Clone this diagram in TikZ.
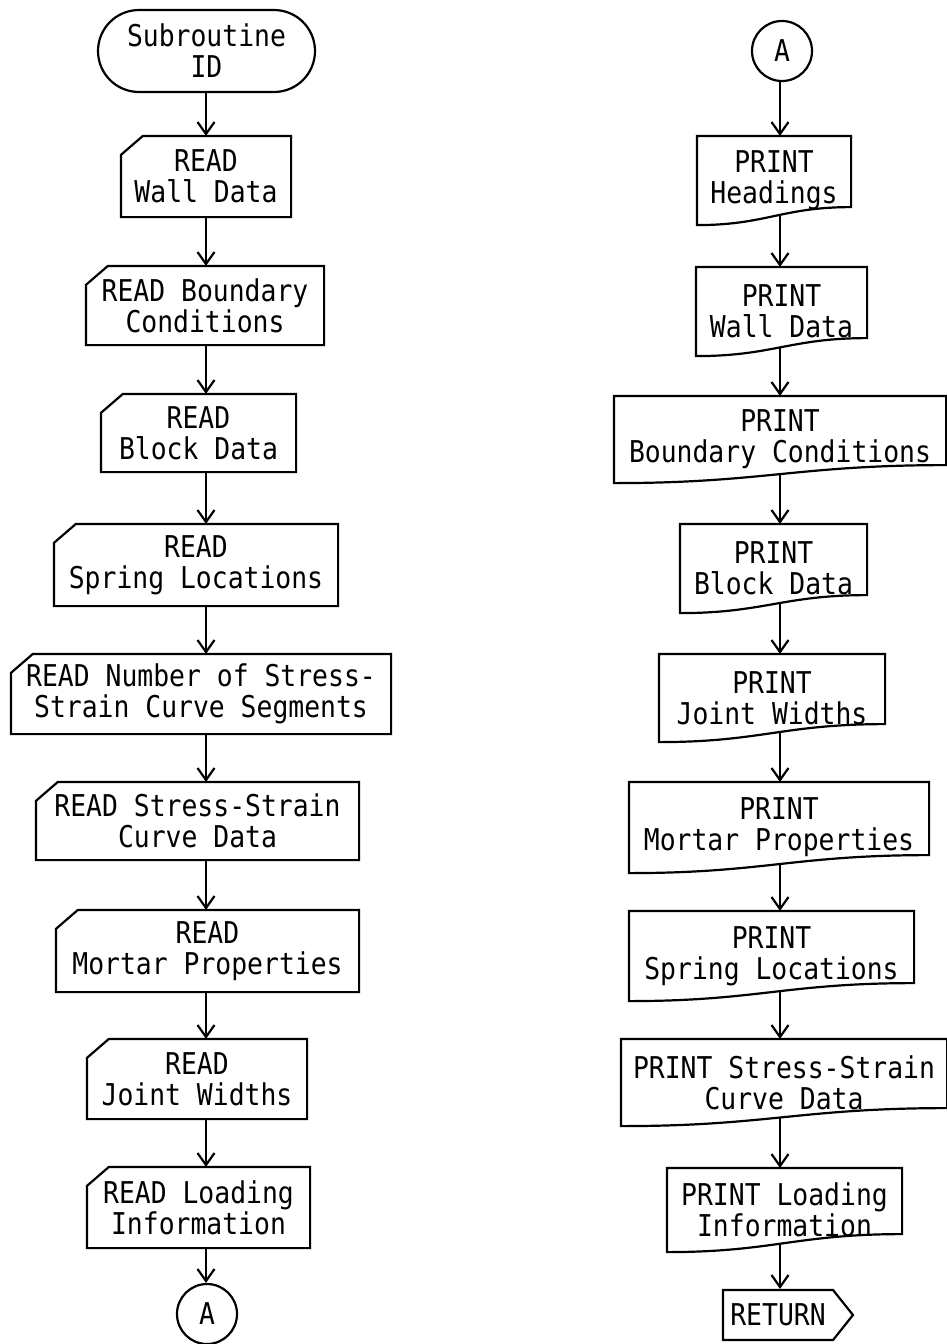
\documentclass[tikz,border=0pt]{standalone}
\usepackage{fontspec}
\usepackage{tikz}
\usetikzlibrary{shapes.misc}
\usetikzlibrary{shapes.symbols}
\usetikzlibrary{arrows.meta}
\usetikzlibrary{calc}
\newfontfamily\flowfont[FakeStretch=0.88]{DejaVu Sans Mono}

% punched card: corner cut off at top left
\newcommand{\cardframe}[1]{%
  \draw ($(#1.north west)+(22,0)$) -- (#1.north east) -- (#1.south east)
    -- (#1.south west) -- ($(#1.north west)+(0,19)$) -- cycle;}
% printed document: wavy bottom edge, tail point for the outgoing arrow
\newcommand{\docframe}[1]{%
  \draw ($(#1.south east)+(0,-18)$) -- (#1.north east) -- (#1.north west)
    -- (#1.south west)
    .. controls ($(#1.south west)!0.45!(#1.south east)$)
    and ($(#1.south west)!0.55!(#1.south east)+(0,-18)$)
    .. ($(#1.south east)+(0,-18)$) -- cycle;
  \coordinate (#1-t) at ($(#1.south -| colR)+(0,-9)$);}

\begin{document}
\begin{tikzpicture}[
  x=1pt, y=-1pt, line width=2.2pt,
  flow/.style={font=\flowfont\fontsize{30}{31}\selectfont, align=center,
    inner sep=2pt},
  card/.style 2 args={flow, minimum width=#1pt, minimum height=#2pt},
  doc/.style 2 args={flow, minimum width=#1pt, minimum height=#2pt},
  term/.style={flow, draw, rounded rectangle, minimum width=221pt,
    minimum height=82pt},
  conn/.style={flow, draw, circle, minimum size=60pt, inner sep=0pt},
  ret/.style={flow, draw, signal, signal to=east, signal pointer angle=103,
    minimum width=130pt, minimum height=50pt},
  link/.style={-{Straight Barb[length=12pt,width=17pt]}}
]
\fill[white] (0,0) rectangle (947,1344);
\useasboundingbox (0,0) rectangle (947,1344);
\coordinate (colL) at (206,0);
\coordinate (colR) at (780,0);

% left column
\node[term] (start) at (206.5,51) {Subroutine\\ID};
\node[card={168}{79}] (rdWall) at (206,176.5) {READ\\Wall Data};
\node[card={236}{77}] (rdBound) at (205,305.5) {READ Boundary\\Conditions};
\node[card={193}{76}] (rdBlock) at (198.5,433) {READ\\Block Data};
\node[card={282}{80}] (rdSpring) at (196,565) {READ\\Spring Locations};
\node[card={378}{78}] (rdNum) at (201,694) {READ Number of Stress-\\Strain Curve Segments};
\node[card={321}{76}] (rdCurve) at (197.5,821) {READ Stress-Strain\\Curve Data};
\node[card={301}{80}] (rdMortar) at (207.5,951) {READ\\Mortar Properties};
\node[card={218}{78}] (rdJoint) at (197,1079) {READ\\Joint Widths};
\node[card={221}{79}] (rdLoad) at (198.5,1207.5) {READ Loading\\Information};
\node[conn] (conA) at (207,1314) {A};

\cardframe{rdWall}
\cardframe{rdBound}
\cardframe{rdBlock}
\cardframe{rdSpring}
\cardframe{rdNum}
\cardframe{rdCurve}
\cardframe{rdMortar}
\cardframe{rdJoint}
\cardframe{rdLoad}

\draw[link] (start.south -| colL) -- (rdWall.north -| colL);
\draw[link] (rdWall.south -| colL) -- (rdBound.north -| colL);
\draw[link] (rdBound.south -| colL) -- (rdBlock.north -| colL);
\draw[link] (rdBlock.south -| colL) -- (rdSpring.north -| colL);
\draw[link] (rdSpring.south -| colL) -- (rdNum.north -| colL);
\draw[link] (rdNum.south -| colL) -- (rdCurve.north -| colL);
\draw[link] (rdCurve.south -| colL) -- (rdMortar.north -| colL);
\draw[link] (rdMortar.south -| colL) -- (rdJoint.north -| colL);
\draw[link] (rdJoint.south -| colL) -- (rdLoad.north -| colL);
\draw[link] (rdLoad.south -| colL) -- (conA.north -| colL);

% right column
\node[conn] (conB) at (782,51) {A};
\node[doc={152}{87}] (prHead) at (774,180.5) {PRINT\\Headings};
\node[doc={169}{87}] (prWall) at (781.5,311.5) {PRINT\\Wall Data};
\node[doc={330}{85}] (prBound) at (780,439.5) {PRINT\\Boundary Conditions};
\node[doc={185}{87}] (prBlock) at (773.5,568.5) {PRINT\\Block Data};
\node[doc={224}{86}] (prJoint) at (772,698) {PRINT\\Joint Widths};
\node[doc={298}{89}] (prMortar) at (779,827.5) {PRINT\\Mortar Properties};
\node[doc={283}{88}] (prSpring) at (771.5,956) {PRINT\\Spring Locations};
\node[doc={324}{85}] (prCurve) at (784,1082.5) {PRINT Stress-Strain\\Curve Data};
\node[doc={233}{82}] (prLoad) at (784.5,1210) {PRINT Loading\\Information};
\node[ret] (finish) at (778,1315) {RETURN};

\docframe{prHead}
\docframe{prWall}
\docframe{prBound}
\docframe{prBlock}
\docframe{prJoint}
\docframe{prMortar}
\docframe{prSpring}
\docframe{prCurve}
\docframe{prLoad}

\draw[link] (conB.south -| colR) -- (prHead.north -| colR);
\draw[link] (prHead-t) -- (prWall.north -| colR);
\draw[link] (prWall-t) -- (prBound.north -| colR);
\draw[link] (prBound-t) -- (prBlock.north -| colR);
\draw[link] (prBlock-t) -- (prJoint.north -| colR);
\draw[link] (prJoint-t) -- (prMortar.north -| colR);
\draw[link] (prMortar-t) -- (prSpring.north -| colR);
\draw[link] (prSpring-t) -- (prCurve.north -| colR);
\draw[link] (prCurve-t) -- (prLoad.north -| colR);
\draw[link] (prLoad-t) -- (finish.north -| colR);
\end{tikzpicture}
\end{document}
